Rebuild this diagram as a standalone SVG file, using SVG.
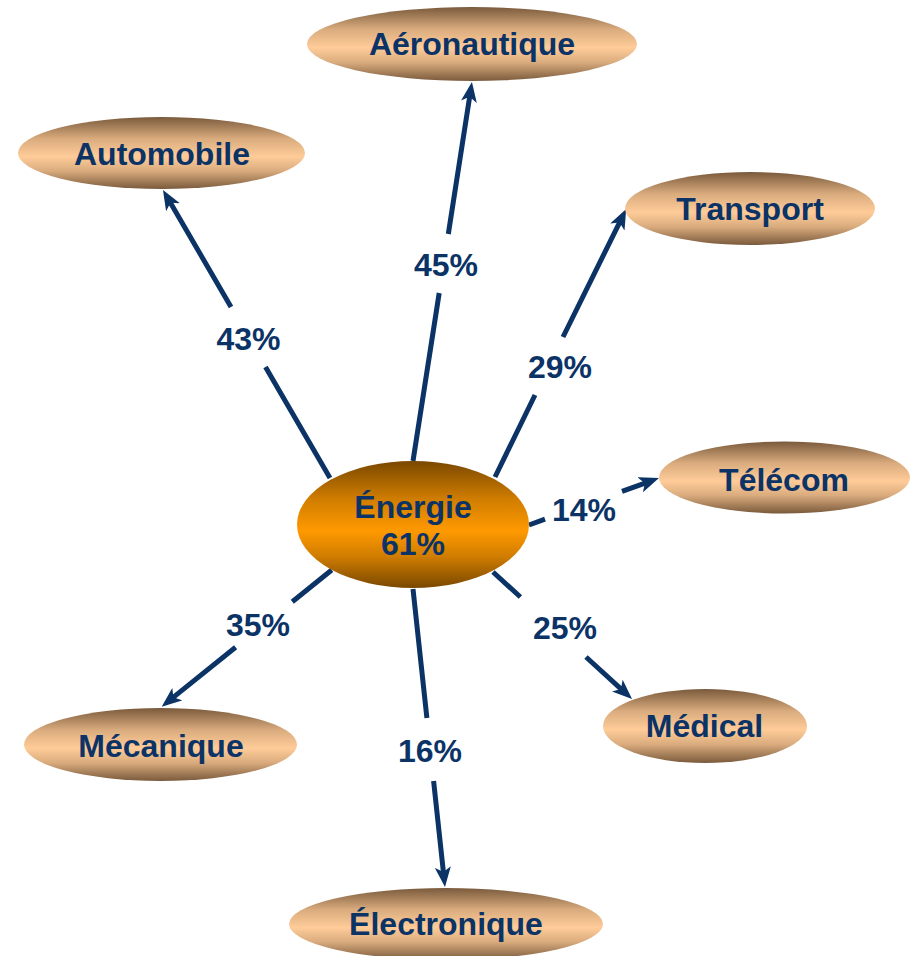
<svg xmlns="http://www.w3.org/2000/svg" width="912" height="956" viewBox="0 0 912 956">
<style>
.lbl{font-family:"Liberation Sans",Arial,sans-serif;font-weight:bold;font-size:32px;fill:#0B3366;text-anchor:middle}
.node{fill:url(#peach)}
.conn{fill:none;stroke:#0B3366;stroke-width:5;marker-end:url(#arr)}
</style>
<defs>
<linearGradient id="peach" x1="0" y1="0" x2="0" y2="1">
<stop offset="0" stop-color="#7a5a3c"/>
<stop offset="0.3" stop-color="#d9ab7d"/>
<stop offset="0.55" stop-color="#FFCC99"/>
<stop offset="0.75" stop-color="#d9ab7d"/>
<stop offset="1" stop-color="#7a5a3c"/>
</linearGradient>
<linearGradient id="orange" x1="0" y1="0" x2="0" y2="1">
<stop offset="0" stop-color="#7a4800"/>
<stop offset="0.3" stop-color="#d07d00"/>
<stop offset="0.55" stop-color="#FF9900"/>
<stop offset="0.75" stop-color="#d07d00"/>
<stop offset="1" stop-color="#7a4800"/>
</linearGradient>
<marker id="arr" markerUnits="userSpaceOnUse" viewBox="0 0 20 16" refX="6" refY="8" markerWidth="20" markerHeight="16" orient="auto">
<path d="M0,0 L20,8 L0,16 L5,8 z" fill="#0B3366"/>
</marker>
</defs>
<rect width="912" height="956" fill="#ffffff"/>
<g id="connectors">
<path class="conn" d="M330,478 L265.5,367 M231,307 L170,202"/>
<path class="conn" d="M413,461 L439.2,293 M448.3,234 L469.8,95.8"/>
<path class="conn" d="M495,477 L535,395 M563,337 L620,221.6"/>
<path class="conn" d="M529,525 L545,519.2 M622,491.4 L645.8,482.8"/>
<path class="conn" d="M493,572 L520.4,597 M586,657 L621.7,689.6"/>
<path class="conn" d="M331.7,570 L292.3,601.7 M235.6,647.3 L172.6,697.9"/>
<path class="conn" d="M413,589 L426.9,718 M433.6,781 L443.5,873.1"/>
<text class="lbl" x="248.5" y="350">43%</text>
<text class="lbl" x="446" y="276">45%</text>
<text class="lbl" x="560" y="378">29%</text>
<text class="lbl" x="584" y="521">14%</text>
<text class="lbl" x="565" y="639">25%</text>
<text class="lbl" x="258" y="636">35%</text>
<text class="lbl" x="430" y="762">16%</text>
</g>
<g id="aeronautique">
<ellipse class="node" cx="472" cy="44" rx="165" ry="37"/>
<text class="lbl" x="472" y="55">Aéronautique</text>
</g>
<g id="automobile">
<ellipse class="node" cx="161.5" cy="153" rx="143.5" ry="36"/>
<text class="lbl" x="162" y="165">Automobile</text>
</g>
<g id="transport">
<ellipse class="node" cx="750" cy="208.5" rx="125" ry="36.5"/>
<text class="lbl" x="750" y="220">Transport</text>
</g>
<g id="telecom">
<ellipse class="node" cx="784.5" cy="477.5" rx="125.5" ry="36"/>
<text class="lbl" x="784" y="491">Télécom</text>
</g>
<g id="energie">
<ellipse cx="413" cy="524.5" rx="116" ry="63.5" fill="url(#orange)"/>
<text class="lbl" x="413" y="518">Énergie</text>
<text class="lbl" x="413" y="555">61%</text>
</g>
<g id="medical">
<ellipse class="node" cx="705" cy="726" rx="102" ry="37"/>
<text class="lbl" x="704.5" y="737">Médical</text>
</g>
<g id="mecanique">
<ellipse class="node" cx="160.5" cy="744.5" rx="136.5" ry="36.5"/>
<text class="lbl" x="161" y="757">Mécanique</text>
</g>
<g id="electronique">
<ellipse class="node" cx="446" cy="924" rx="157" ry="36"/>
<text class="lbl" x="446" y="935">Électronique</text>
</g>
</svg>
